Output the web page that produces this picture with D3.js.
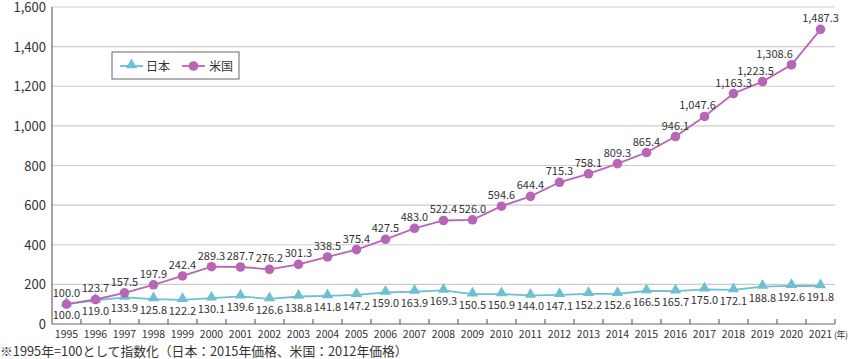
<!DOCTYPE html>
<html>
<head>
<meta charset="utf-8">
<script src="https://cdn.jsdelivr.net/npm/d3@7"></script>
<style>
  body { margin: 0; background: #fff; }
  text { font-family: "Noto Sans CJK JP", "Noto Sans", sans-serif; fill: #333; }
</style>
</head>
<body>
<svg id="chart" width="851" height="359"></svg>
<script>
// 年（横軸）
const years = ["1995","1996","1997","1998","1999","2000","2001","2002","2003","2004","2005","2006","2007","2008","2009","2010","2011","2012","2013","2014","2015","2016","2017","2018","2019","2020","2021"]
// 日本（2015年価格）
const japan = [100.0,119.0,133.9,125.8,122.2,130.1,139.6,126.6,138.8,141.8,147.2,159.0,163.9,169.3,150.5,150.9,144.0,147.1,152.2,152.6,166.5,165.7,175.0,172.1,188.8,192.6,191.8]
// 米国（2012年価格）
const usa = [100.0,123.7,157.5,197.9,242.4,289.3,287.7,276.2,301.3,338.5,375.4,427.5,483.0,522.4,526.0,594.6,644.4,715.3,758.1,809.3,865.4,946.1,1047.6,1163.3,1223.5,1308.6,1487.3]
const yTicks = [0,200,400,600,800,1000,1200,1400,1600]
const seriesNames = ["日本", "米国"]
const note = "※1995年=100として指数化（日本：2015年価格、米国：2012年価格）"

const colJP = "#6cc0d2", colUS = "#b865b5"

const svg = d3.select("#chart")
const margin = { top: 7, right: 16, bottom: 35, left: 52 }
const width = 851 - margin.left - margin.right,
    height = 359 - margin.top - margin.bottom

const g = svg.append("g").attr("transform", `translate(${margin.left},${margin.top})`)

// 横軸スケール
const x = d3.scaleBand().domain(years).range([0, width])
const cx = d => x(d) + x.bandwidth() / 2
// 縦軸スケール
const y = d3.scaleLinear().domain([0, 1600]).range([height, 0])

// グリッド線
g.selectAll(".grid").data(yTicks.slice(1)).join("line")
    .attr("x1", 0).attr("x2", width)
    .attr("y1", d => y(d)).attr("y2", d => y(d))
    .attr("stroke", "#cccccc").attr("stroke-width", 1.2)

// 縦軸ラベル
g.selectAll(".ylab").data(yTicks).join("text")
    .attr("x", -6).attr("y", d => y(d) + 5)
    .attr("text-anchor", "end")
    .style("font-size", "13px")
    .text(d => d3.format(",")(d))

// 軸線
g.append("line").attr("x1", 0).attr("x2", 0).attr("y1", 0).attr("y2", height)
    .attr("stroke", "#666").attr("stroke-width", 1.2)
g.append("line").attr("x1", 0).attr("x2", width).attr("y1", height).attr("y2", height)
    .attr("stroke", "#666").attr("stroke-width", 1.2)

// 目盛り（内向き）
g.selectAll(".tick").data(years).join("line")
    .attr("x1", d => x(d) + x.bandwidth()).attr("x2", d => x(d) + x.bandwidth())
    .attr("y1", height).attr("y2", height - 5)
    .attr("stroke", "#666").attr("stroke-width", 1.2)

// 年ラベル
g.selectAll(".xlab").data(years).join("text")
    .attr("x", d => cx(d)).attr("y", height + 14)
    .attr("text-anchor", "middle")
    .style("font-size", "10.5px")
    .text(d => d)
g.append("text").attr("x", width - 1).attr("y", height + 14)
    .style("font-size", "9px").style("letter-spacing", "-0.5px").text("(年)")

// 線
const line = d3.line().x((d, i) => cx(years[i])).y(d => y(d))
g.append("path").datum(japan).attr("d", line)
    .attr("fill", "none").attr("stroke", colJP).attr("stroke-width", 1.8)
g.append("path").datum(usa).attr("d", line)
    .attr("fill", "none").attr("stroke", colUS).attr("stroke-width", 1.8)

// マーカー
const tri = d3.symbol().type(d3.symbolTriangle).size(55)
g.selectAll(".jp").data(japan).join("path")
    .attr("d", tri)
    .attr("transform", (d, i) => `translate(${cx(years[i])},${y(d) - 1})`)
    .attr("fill", colJP)
g.selectAll(".us").data(usa).join("circle")
    .attr("cx", (d, i) => cx(years[i])).attr("cy", d => y(d))
    .attr("r", 4.8).attr("fill", colUS)

// データラベル
const fmt = d3.format(",.1f")
// 重なり回避の横ずらし（米国）
const usShift = { "2017": -7, "2019": -7, "2020": -17 }
g.selectAll(".jplab").data(japan).join("text")
    .attr("x", (d, i) => cx(years[i])).attr("y", d => y(d) + 15)
    .attr("text-anchor", "middle")
    .style("font-size", "11px")
    .text(d => fmt(d))
g.selectAll(".uslab").data(usa).join("text")
    .attr("x", (d, i) => cx(years[i]) + (usShift[years[i]] || 0))
    .attr("y", d => y(d) - 7)
    .attr("text-anchor", "middle")
    .style("font-size", "11px")
    .text(d => fmt(d))

// 凡例
const lg = svg.append("g").attr("transform", "translate(112,52)")
lg.append("rect").attr("width", 127).attr("height", 27)
    .attr("fill", "#fff").attr("stroke", "#666").attr("stroke-width", 1)
lg.append("line").attr("x1", 8).attr("x2", 31).attr("y1", 14).attr("y2", 14)
    .attr("stroke", colJP).attr("stroke-width", 1.8)
lg.append("path").attr("d", tri).attr("transform", "translate(19.5,13)").attr("fill", colJP)
lg.append("text").attr("x", 34).attr("y", 18.5).style("font-size", "12px").text(seriesNames[0])
lg.append("line").attr("x1", 70).attr("x2", 93).attr("y1", 14).attr("y2", 14)
    .attr("stroke", colUS).attr("stroke-width", 1.8)
lg.append("circle").attr("cx", 81.5).attr("cy", 14).attr("r", 4.8).attr("fill", colUS)
lg.append("text").attr("x", 97).attr("y", 18.5).style("font-size", "12px").text(seriesNames[1])

// 注記
svg.append("text").attr("x", 0).attr("y", 356)
    .style("font-size", "12.8px").text(note)
</script>
</body>
</html>
